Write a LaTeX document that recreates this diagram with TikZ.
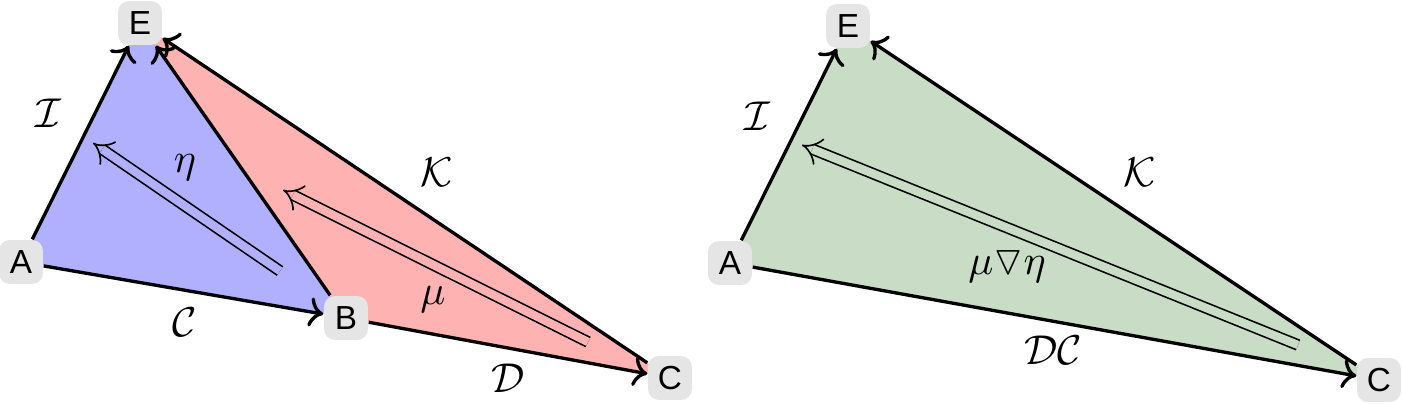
\documentclass[tikz,border=0pt]{standalone}
\usepackage{amssymb}
\usepackage{fontspec}
\newfontfamily\objfont{Liberation Sans}
\usetikzlibrary{arrows.meta,backgrounds}
\definecolor{cellblue}{RGB}{176,176,255}
\definecolor{cellred}{RGB}{255,178,178}
\definecolor{cellgreen}{RGB}{200,220,198}
\begin{document}
\begin{tikzpicture}[x=0.24pt,y=0.24pt,yscale=-1,xscale=1,
  obj/.style={fill=gray!20, rounded corners=2.5pt, minimum size=10.5pt, inner sep=1pt, font=\objfont\footnotesize},
  edge/.style={thick, ->},
  cell/.style={thin, double distance=2pt, -{Implies}},
  lbl/.style={inner sep=0pt}]
\useasboundingbox (0,0) rectangle (1403,404);

% left picture
\node[obj] (A) at (21,262) {A};
\node[obj] (E) at (140,23) {E};
\node[obj] (B) at (346,318) {B};
\node[obj] (C) at (670,378) {C};

\begin{scope}[on background layer]
\fill[cellblue] (A.center) -- (E.center) -- (B.center) -- cycle;
\fill[cellred] (E.center) -- (B.center) -- (C.center) -- cycle;
\end{scope}

\draw[edge] (A) -- (E);
\draw[edge] (A) -- (B);
\draw[edge] (B) -- (E);
\draw[edge] (B) -- (C);
\draw[edge] (C) -- (E);

\coordinate (etaS) at (280,271);
\coordinate (etaT) at (93,143);
\draw[cell, double=cellblue] (etaS) -- (etaT);
\coordinate (muS) at (588,342);
\coordinate (muT) at (283,190);
\draw[cell, double=cellred] (muS) -- (muT);

\node[lbl] (lI) at (48,113) {$\mathcal{I}$};
\node[lbl] (leta) at (185,168) {$\eta$};
\node[lbl] (lK) at (437,172) {$\mathcal{K}$};
\node[lbl] (lC) at (185,322) {$\mathcal{C}$};
\node[lbl] (lmu) at (433,300) {$\mu$};
\node[lbl] (lD) at (508,378) {$\mathcal{D}$};

% right picture
\node[obj] (A2) at (730,263) {A};
\node[obj] (E2) at (848,26) {E};
\node[obj] (C2) at (1379,380) {C};

\begin{scope}[on background layer]
\fill[cellgreen] (A2.center) -- (E2.center) -- (C2.center) -- cycle;
\end{scope}

\draw[edge] (A2) -- (E2);
\draw[edge] (A2) -- (C2);
\draw[edge] (C2) -- (E2);

\coordinate (compS) at (1298,345);
\coordinate (compT) at (802,145);
\draw[cell, double=cellgreen] (compS) -- (compT);

\node[lbl] (lI2) at (757,116) {$\mathcal{I}$};
\node[lbl] (lK2) at (1140,172) {$\mathcal{K}$};
\node[lbl] (lcomp) at (1007,267) {$\mu\triangledown\eta$};
\node[lbl] (lDC) at (1053,350) {$\mathcal{D}\mathcal{C}$};
\end{tikzpicture}
\end{document}
